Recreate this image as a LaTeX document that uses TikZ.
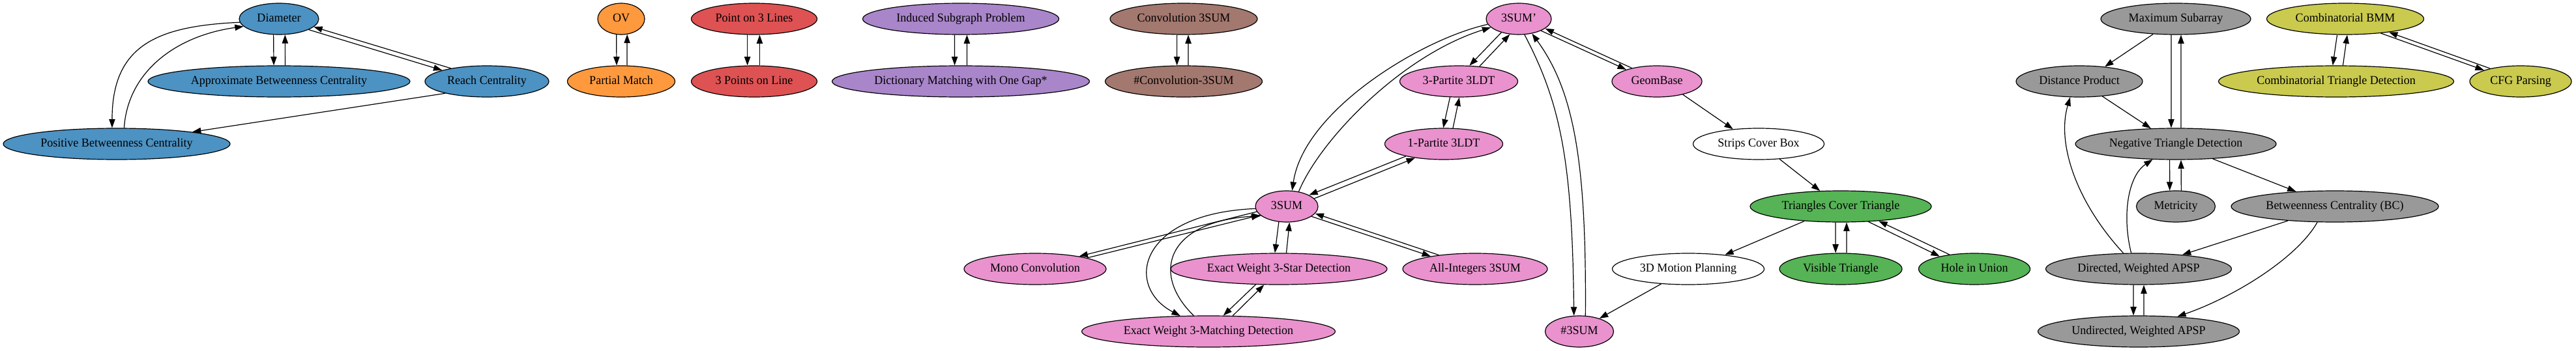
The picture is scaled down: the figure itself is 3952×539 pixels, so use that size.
\documentclass[tikz,border=0pt]{standalone}
\usepackage{fontspec}
\setmainfont{Liberation Serif}[FakeStretch=0.965]
\usetikzlibrary{shapes.geometric,arrows.meta}
\definecolor{cblue}{HTML}{4C92C3}
\definecolor{corange}{HTML}{FF993E}
\definecolor{cred}{HTML}{DE5253}
\definecolor{cpurple}{HTML}{A985CA}
\definecolor{cbrown}{HTML}{A3786F}
\definecolor{cpink}{HTML}{E992CE}
\definecolor{cgray}{HTML}{999999}
\definecolor{colive}{HTML}{C9CA4E}
\definecolor{cgreen}{HTML}{56B356}
\begin{document}
\begin{tikzpicture}[x=0.75pt,y=-0.75pt,
  nd/.style={ellipse,draw=black,line width=0.9pt,inner sep=0pt,minimum height=36pt,
    text height=9.5pt,text depth=3pt,font=\fontsize{14}{16}\selectfont},
  ed/.style={draw=black,line width=0.9pt,-{Triangle[length=10pt,width=7pt]}}]
\useasboundingbox (0,0) rectangle (3952,539);
% blue
\node[nd,fill=cblue,minimum width=91.5pt] (dia) at (428,29) {Diameter};
\node[nd,fill=cblue,minimum width=301.5pt] (abc) at (428,125) {Approximate Betweenness Centrality};
\node[nd,fill=cblue,minimum width=142.5pt] (reach) at (747,125) {Reach Centrality};
\node[nd,fill=cblue,minimum width=261pt] (pbc) at (179,221) {Positive Betweenness Centrality};
% orange
\node[nd,fill=corange,minimum width=54pt] (ov) at (953,29) {OV};
\node[nd,fill=corange,minimum width=123.75pt] (pm) at (953,125) {Partial Match};
% red
\node[nd,fill=cred,minimum width=144.75pt] (p3l) at (1157,29) {Point on 3 Lines};
\node[nd,fill=cred,minimum width=144.75pt] (p3ol) at (1157,125) {3 Points on Line};
% purple
\node[nd,fill=cpurple,minimum width=225.75pt] (isp) at (1474,29) {Induced Subgraph Problem};
\node[nd,fill=cpurple,minimum width=296.25pt] (dmg) at (1474,125) {Dictionary Matching with One Gap*};
% brown
\node[nd,fill=cbrown,minimum width=169.5pt] (c3s) at (1816,29) {Convolution 3SUM};
\node[nd,fill=cbrown,minimum width=180.75pt] (nc3s) at (1816,125) {\#Convolution-3SUM};
% pink
\node[nd,fill=cpink,minimum width=75pt] (s3p) at (2330,29) {3SUM'};
\node[nd,fill=cpink,minimum width=135.75pt] (p3) at (2238,125) {3-Partite 3LDT};
\node[nd,fill=cpink,minimum width=103.5pt] (gb) at (2542,125) {GeomBase};
\node[nd,fill=cpink,minimum width=135.75pt] (p1) at (2215,221) {1-Partite 3LDT};
\node[nd,fill=cpink,minimum width=72pt] (s3) at (1974,317) {3SUM};
\node[nd,fill=cpink,minimum width=163.5pt] (mono) at (1588,413) {Mono Convolution};
\node[nd,fill=cpink,minimum width=249pt] (star) at (1962,413) {Exact Weight 3-Star Detection};
\node[nd,fill=cpink,minimum width=166.5pt] (allint) at (2263,413) {All-Integers 3SUM};
\node[nd,fill=cpink,minimum width=291.75pt] (match) at (1854,509) {Exact Weight 3-Matching Detection};
\node[nd,fill=cpink,minimum width=78.75pt] (n3s) at (2423,509) {\#3SUM};
% white
\node[nd,fill=white,minimum width=150.75pt] (scb) at (2698,221) {Strips Cover Box};
\node[nd,fill=white,minimum width=174.75pt] (mp3d) at (2590,413) {3D Motion Planning};
% green
\node[nd,fill=cgreen,minimum width=208.5pt] (tct) at (2824,317) {Triangles Cover Triangle};
\node[nd,fill=cgreen,minimum width=141pt] (vt) at (2824,413) {Visible Triangle};
\node[nd,fill=cgreen,minimum width=128.25pt] (hiu) at (3029,413) {Hole in Union};
% gray
\node[nd,fill=cgray,minimum width=172.5pt] (msa) at (3338,29) {Maximum Subarray};
\node[nd,fill=cgray,minimum width=145.5pt] (dp) at (3190,125) {Distance Product};
\node[nd,fill=cgray,minimum width=231pt] (ntd) at (3338,221) {Negative Triangle Detection};
\node[nd,fill=cgray,minimum width=90.75pt] (met) at (3338,317) {Metricity};
\node[nd,fill=cgray,minimum width=238.5pt] (bc) at (3582,317) {Betweenness Centrality (BC)};
\node[nd,fill=cgray,minimum width=213.75pt] (dwa) at (3281,413) {Directed, Weighted APSP};
\node[nd,fill=cgray,minimum width=231.75pt] (uwa) at (3281,509) {Undirected, Weighted APSP};
% olive
\node[nd,fill=colive,minimum width=180.75pt] (cbmm) at (3598,29) {Combinatorial BMM};
\node[nd,fill=colive,minimum width=270.75pt] (ctd) at (3584,125) {Combinatorial Triangle Detection};
\node[nd,fill=colive,minimum width=117pt] (cfg) at (3867,125) {CFG Parsing};

% ---- edges: blue
\draw[ed] (dia.-109) -- (abc.108);
\draw[ed] (abc.69) -- (dia.-69);
\draw[ed] (dia.-20) -- (reach.166);
\draw[ed] (reach.160) -- (dia.-13);
\draw[ed] (dia.-175) .. controls (240,40) and (172,70) .. (pbc.106);
\draw[ed] (pbc.65) .. controls (196,110) and (270,55) .. (dia.-168);
\draw[ed] (reach.-164) -- (pbc.9);
% orange, red, purple, brown
\draw[ed] (ov.-107) -- (pm.106);
\draw[ed] (pm.70) -- (ov.-69);
\draw[ed] (p3l.-113) -- (p3ol.113);
\draw[ed] (p3ol.71) -- (p3l.-71);
\draw[ed] (isp.-111) -- (dmg.111);
\draw[ed] (dmg.69) -- (isp.-69);
\draw[ed] (c3s.-113) -- (nc3s.113);
\draw[ed] (nc3s.74) -- (c3s.-74);
% pink
\draw[ed] (s3p.-142) -- (p3.56);
\draw[ed] (p3.36) -- (s3p.-120);
\draw[ed] (p3.-119) -- (p1.92);
\draw[ed] (p1.60) -- (p3.-88);
\draw[ed] (s3.16) -- (p1.-154);
\draw[ed] (p1.-162) -- (s3.27);
\draw[ed] (s3p.-170) .. controls (2180,60) and (2000,170) .. (s3.71);
\draw[ed] (s3.51) .. controls (2025,215) and (2150,85) .. (s3p.-163);
\draw[ed] (s3p.-28) -- (gb.159);
\draw[ed] (gb.152) -- (s3p.-20);
\draw[ed] (s3p.-70) .. controls (2395,160) and (2412,250) .. (n3s.109);
\draw[ed] (n3s.69) .. controls (2434,250) and (2415,140) .. (s3p.-48);
\draw[ed] (s3.-170) -- (mono.16);
\draw[ed] (mono.12) -- (s3.-162);
\draw[ed] (s3.-117) -- (star.104);
\draw[ed] (star.65) -- (s3.-80);
\draw[ed] (s3.-22) -- (allint.164);
\draw[ed] (allint.159) -- (s3.-14);
\draw[ed] (s3.-176) .. controls (1745,328) and (1725,440) .. (match.151);
\draw[ed] (match.133) .. controls (1765,420) and (1790,340) .. (s3.-160);
\draw[ed] (star.-146) -- (match.47);
\draw[ed] (match.33) -- (star.-133);
% geometry
\draw[ed] (gb.-27) -- (scb.150);
\draw[ed] (scb.-36) -- (tct.143);
\draw[ed] (tct.-158) -- (mp3d.21);
\draw[ed] (tct.-108) -- (vt.108);
\draw[ed] (vt.70) -- (tct.-70);
\draw[ed] (tct.-29) -- (hiu.160);
\draw[ed] (hiu.150) -- (tct.-21);
\draw[ed] (mp3d.-151) -- (n3s.33);
% gray
\draw[ed] (msa.-146) -- (dp.30);
\draw[ed] (msa.-106) -- (ntd.106);
\draw[ed] (ntd.72) -- (msa.-72);
\draw[ed] (dp.-33) -- (ntd.148);
\draw[ed] (ntd.-111) -- (met.111);
\draw[ed] (met.71) -- (ntd.-72);
\draw[ed] (ntd.-22) -- (bc.159);
\draw[ed] (bc.-163) -- (dwa.18);
\draw[ed] (bc.-138) .. controls (3525,395) and (3430,455) .. (uwa.21);
\draw[ed] (dwa.134) .. controls (3185,310) and (3155,220) .. (dp.-120);
\draw[ed] (dwa.115) .. controls (3255,330) and (3265,270) .. (ntd.-146);
\draw[ed] (dwa.-108) -- (uwa.108);
\draw[ed] (uwa.72) -- (dwa.-72);
% olive
\draw[ed] (cbmm.-117) -- (ctd.102);
\draw[ed] (ctd.67) -- (cbmm.-83);
\draw[ed] (cbmm.-22) -- (cfg.163);
\draw[ed] (cfg.157) -- (cbmm.-17);
\end{tikzpicture}
\end{document}
